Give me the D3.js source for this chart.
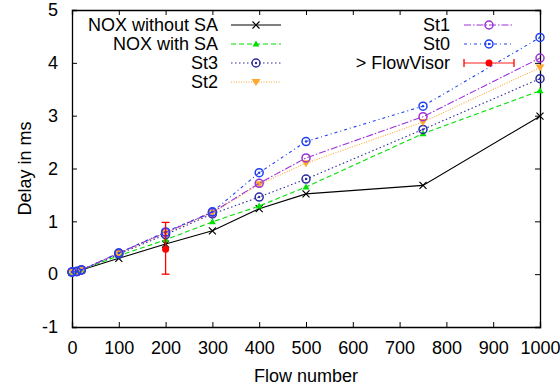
<!DOCTYPE html>
<html>
<head>
<meta charset="utf-8">
<script src="https://cdn.jsdelivr.net/npm/d3@7"></script>
<style>
  body { margin: 0; background: #fff; }
  svg text { font-family: "Liberation Sans", Arial, sans-serif; fill: #000; }
</style>
</head>
<body>
<div class="chart"></div>
<script>
// values
const flows = [0, 10, 20, 100, 200, 300, 400, 500, 750, 1000]
const noxWithout = [0.04, 0.05, 0.08, 0.30, 0.57, 0.82, 1.24, 1.52, 1.68, 2.99]
const noxWith = [0.04, 0.05, 0.08, 0.35, 0.65, 0.99, 1.29, 1.65, 2.66, 3.47]
const st3 = [0.04, 0.05, 0.08, 0.38, 0.75, 1.14, 1.46, 1.80, 2.74, 3.70]
const st2 = [0.04, 0.05, 0.08, 0.39, 0.78, 1.16, 1.70, 2.10, 2.88, 3.91]
const st1 = [0.04, 0.05, 0.08, 0.40, 0.79, 1.17, 1.72, 2.20, 2.98, 4.09]
const st0 = [0.04, 0.05, 0.08, 0.40, 0.80, 1.18, 1.92, 2.51, 3.18, 4.48]
const flowVisorX = [200]
const flowVisorY = [0.47]
const flowVisorLow = [0.0]
const flowVisorHigh = [0.98]
const xTicks = [0, 100, 200, 300, 400, 500, 600, 700, 800, 900, 1000]
const yTicks = [-1, 0, 1, 2, 3, 4, 5]

const width = 560, height = 390
const padding = {left: 72, right: 20, top: 10, bottom: 63}
const fontSize = 18

const series = [
  {name: "NOX without SA", values: noxWithout, color: "#000000", dash: null, mark: "cross"},
  {name: "NOX with SA", values: noxWith, color: "#00e000", dash: "5,3", mark: "tri"},
  {name: "St3", values: st3, color: "#2c2ca0", dash: "1.5,2.5", mark: "dotcircle"},
  {name: "St2", values: st2, color: "#ffa830", dash: "1,1.5", mark: "tridown"},
  {name: "St1", values: st1, color: "#9a32d6", dash: "7,2,1.5,2", mark: "circle"},
  {name: "St0", values: st0, color: "#1e40ee", dash: "3,3,1,3", mark: "dotcircle"}
]

const svg = d3.select(".chart").append("svg").attr("width", width).attr("height", height)

const xScale = d3.scaleLinear().domain([0, 1000]).range([padding.left, width - padding.right])
const yScale = d3.scaleLinear().domain([-1, 5]).range([height - padding.bottom, padding.top])

// plain hyphen for negatives, like the original
const plain = function(d) { return String(d) }

// axes with inward ticks, mirrored on top and right like gnuplot
svg.append("g")
  .attr("transform", "translate(0," + (height - padding.bottom) + ")")
  .call(d3.axisBottom(xScale).tickValues(xTicks).tickSize(-5).tickPadding(14).tickFormat(plain))
svg.append("g")
  .attr("transform", "translate(0," + padding.top + ")")
  .call(d3.axisTop(xScale).tickValues(xTicks).tickSize(-5).tickFormat(""))
svg.append("g")
  .attr("transform", "translate(" + padding.left + ",0)")
  .call(d3.axisLeft(yScale).tickValues(yTicks).tickSize(-5).tickPadding(14).tickFormat(plain))
svg.append("g")
  .attr("transform", "translate(" + (width - padding.right) + ",0)")
  .call(d3.axisRight(yScale).tickValues(yTicks).tickSize(-5).tickFormat(""))

svg.selectAll(".domain").attr("stroke", "#000").attr("stroke-width", 1.3)
svg.selectAll(".tick line").attr("stroke", "#000")
svg.selectAll(".tick text").style("font-size", fontSize + "px").attr("fill", "#000")
  .style("font-family", "'Liberation Sans', Arial, sans-serif")

svg.append("text")
  .attr("x", (padding.left + width - padding.right) / 2).attr("y", 382)
  .attr("text-anchor", "middle").style("font-size", fontSize + "px")
  .text("Flow number")
svg.append("text")
  .attr("transform", "translate(31," + ((padding.top + height - padding.bottom) / 2) + ") rotate(-90)")
  .attr("text-anchor", "middle").style("font-size", fontSize + "px")
  .text("Delay in ms")

function drawMark(g, type, color, x, y) {
  if (type == "cross") {
    g.append("path").attr("d", "M" + (x - 3.5) + "," + (y - 3.5) + "L" + (x + 3.5) + "," + (y + 3.5) +
      "M" + (x - 3.5) + "," + (y + 3.5) + "L" + (x + 3.5) + "," + (y - 3.5))
      .attr("stroke", color).attr("stroke-width", 1.2).attr("fill", "none")
  } else if (type == "tri") {
    g.append("path").attr("d", "M" + x + "," + (y - 3.5) + "L" + (x + 3.5) + "," + (y + 2.5) + "L" + (x - 3.5) + "," + (y + 2.5) + "Z")
      .attr("fill", color)
  } else if (type == "tridown") {
    g.append("path").attr("d", "M" + x + "," + (y + 4) + "L" + (x + 4.5) + "," + (y - 3) + "L" + (x - 4.5) + "," + (y - 3) + "Z")
      .attr("fill", color)
  } else if (type == "circle") {
    g.append("circle").attr("cx", x).attr("cy", y).attr("r", 4)
      .attr("fill", "none").attr("stroke", color).attr("stroke-width", 1.5)
  } else if (type == "dotcircle") {
    g.append("circle").attr("cx", x).attr("cy", y).attr("r", 4)
      .attr("fill", "none").attr("stroke", color).attr("stroke-width", 1.5)
    g.append("circle").attr("cx", x).attr("cy", y).attr("r", 1.2).attr("fill", color)
  } else if (type == "dot") {
    g.append("circle").attr("cx", x).attr("cy", y).attr("r", 3.5).attr("fill", color)
  }
}

const lineFunction = d3.line()
  .x(function(d) { return xScale(d[0]) })
  .y(function(d) { return yScale(d[1]) })

series.forEach(function(s) {
  const pts = flows.map(function(f, i) { return [f, s.values[i]] })
  const g = svg.append("g")
  g.append("path")
    .attr("d", lineFunction(pts))
    .attr("fill", "none")
    .attr("stroke", s.color)
    .attr("stroke-width", 1.1)
    .attr("stroke-dasharray", s.dash)
  pts.forEach(function(p) { drawMark(g, s.mark, s.color, xScale(p[0]), yScale(p[1])) })
})

// FlowVisor with error bars
const fv = svg.append("g")
flowVisorX.forEach(function(x, i) {
  const px = xScale(x)
  fv.append("line").attr("x1", px).attr("x2", px)
    .attr("y1", yScale(flowVisorLow[i])).attr("y2", yScale(flowVisorHigh[i]))
    .attr("stroke", "#ff0000").attr("stroke-width", 1.3)
  ;[flowVisorLow[i], flowVisorHigh[i]].forEach(function(v) {
    fv.append("line").attr("x1", px - 4).attr("x2", px + 4)
      .attr("y1", yScale(v)).attr("y2", yScale(v))
      .attr("stroke", "#ff0000").attr("stroke-width", 1.3)
  })
  drawMark(fv, "dot", "#ff0000", px, yScale(flowVisorY[i]))
})

// legend, two columns as in the reference
const legendLeft = series.slice(0, 4)
const legendRight = series.slice(4)
const rowY = [25, 44, 63, 82]
function legendRow(s, textX, lx1, lx2, y) {
  const g = svg.append("g")
  g.append("text").attr("x", textX).attr("y", y).attr("dy", "0.35em")
    .attr("text-anchor", "end").style("font-size", fontSize + "px").text(s.name)
  g.append("line").attr("x1", lx1).attr("x2", lx2).attr("y1", y).attr("y2", y)
    .attr("stroke", s.color).attr("stroke-width", 1.1).attr("stroke-dasharray", s.dash)
  drawMark(g, s.mark, s.color, (lx1 + lx2) / 2, y)
}
legendLeft.forEach(function(s, i) { legendRow(s, 218, 231, 281, rowY[i]) })
legendRight.forEach(function(s, i) { legendRow(s, 450, 464, 514, rowY[i]) })

const fvg = svg.append("g")
fvg.append("text").attr("x", 450).attr("y", rowY[2]).attr("dy", "0.35em")
  .attr("text-anchor", "end").style("font-size", fontSize + "px").text("> FlowVisor")
fvg.append("line").attr("x1", 464).attr("x2", 514).attr("y1", rowY[2]).attr("y2", rowY[2])
  .attr("stroke", "#ff6a6a").attr("stroke-width", 1.6)
;[464, 514].forEach(function(x) {
  fvg.append("line").attr("x1", x).attr("x2", x).attr("y1", rowY[2] - 4).attr("y2", rowY[2] + 4)
    .attr("stroke", "#ff0000").attr("stroke-width", 1.3)
})
drawMark(fvg, "dot", "#ff0000", 489, rowY[2])
</script>
</body>
</html>
